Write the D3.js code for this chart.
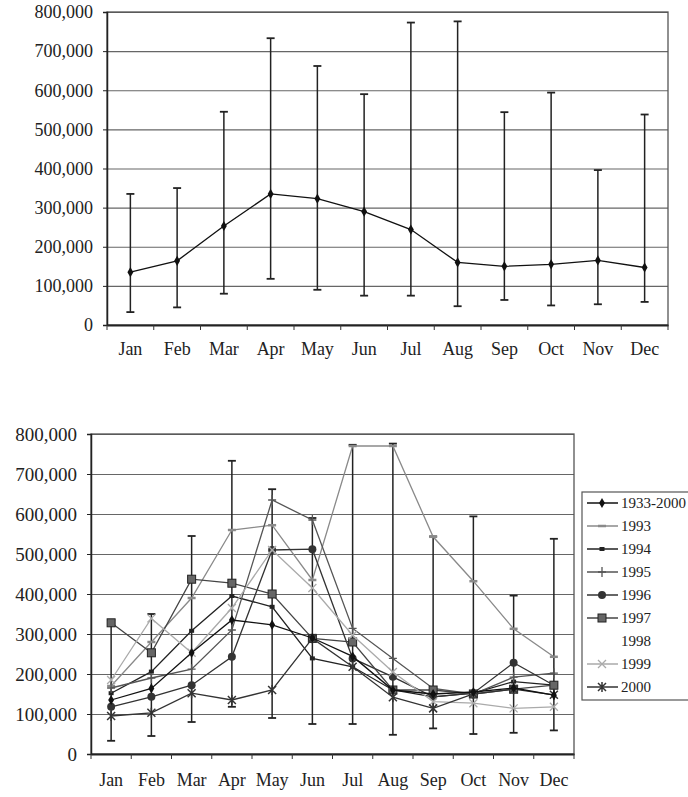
<!DOCTYPE html>
<html>
<head>
<meta charset="utf-8">
<script src="https://cdn.jsdelivr.net/npm/d3@7"></script>
<style>
  body { margin: 0; background: #fff; }
  svg { display: block; font-family: "Liberation Serif", "Times New Roman", serif; }
</style>
</head>
<body>
<svg width="688" height="797"></svg>
<script>
// months and yearly flow values
var months = ["Jan", "Feb", "Mar", "Apr", "May", "Jun", "Jul", "Aug", "Sep", "Oct", "Nov", "Dec"];
var yTicks = [0, 100000, 200000, 300000, 400000, 500000, 600000, 700000, 800000];

var meanFlow = [135000, 164000, 253000, 335000, 323000, 290000, 244000, 160000, 150000, 155000, 165000, 147000];
var maxFlow = [335000, 350000, 545000, 733000, 662000, 590000, 773000, 776000, 544000, 594000, 396000, 538000];
var minFlow = [33000, 45000, 80000, 118000, 90000, 75000, 75000, 48000, 64000, 50000, 53000, 59000];

var flow1993 = [170000, 280000, 390000, 560000, 572000, 435000, 770000, 770000, 543000, 432000, 313000, 243000];
var flow1994 = [152000, 206000, 308000, 395000, 368000, 239000, 218000, 160000, 143000, 152000, 181000, 172000];
var flow1995 = [165000, 190000, 212000, 310000, 635000, 585000, 314000, 239000, 164000, 150000, 192000, 202000];
var flow1996 = [118000, 143000, 172000, 243000, 510000, 512000, 239000, 193000, 143000, 152000, 228000, 172000];
var flow1997 = [328000, 253000, 437000, 427000, 400000, 289000, 280000, 160000, 160000, 150000, 162000, 172000];
var flow1999 = [185000, 339000, 253000, 365000, 510000, 415000, 297000, 205000, 131000, 127000, 114000, 118000];
var flow2000 = [95000, 103000, 152000, 135000, 160000, 289000, 218000, 142000, 114000, 150000, 162000, 148000];

var legendNames = ["1933-2000", "1993", "1994", "1995", "1996", "1997", "1998", "1999", "2000"];

var svg = d3.select("svg");
var fmt = d3.format(",");

// series styles, values come from the arrays above (1998 has no visible line)
var series = [
  {name: "1933-2000", values: meanFlow, color: "#111", marker: "diamond"},
  {name: "1993", values: flow1993, color: "#8a8a8a", marker: "dash"},
  {name: "1994", values: flow1994, color: "#222", marker: "smallsquare"},
  {name: "1995", values: flow1995, color: "#555", marker: "plus"},
  {name: "1996", values: flow1996, color: "#333", marker: "circle"},
  {name: "1997", values: flow1997, color: "#444", marker: "square"},
  {name: "1998", values: null, color: "none", marker: "none"},
  {name: "1999", values: flow1999, color: "#aaa", marker: "times"},
  {name: "2000", values: flow2000, color: "#333", marker: "star"}
];

function drawMarker(g, type, x, y, color) {
  if (type == "diamond") {
    g.append("path").attr("d", d3.symbol().type(d3.symbolDiamond).size(30)())
      .attr("transform", "translate(" + x + "," + y + ")").attr("fill", color);
  } else if (type == "circle") {
    g.append("circle").attr("cx", x).attr("cy", y).attr("r", 4).attr("fill", color);
  } else if (type == "square") {
    g.append("rect").attr("x", x - 4).attr("y", y - 4).attr("width", 8).attr("height", 8)
      .attr("fill", "#666").attr("stroke", "#222");
  } else if (type == "smallsquare") {
    g.append("rect").attr("x", x - 2.5).attr("y", y - 2).attr("width", 5).attr("height", 4).attr("fill", color);
  } else if (type == "dash") {
    g.append("line").attr("x1", x - 4).attr("x2", x + 4).attr("y1", y).attr("y2", y)
      .attr("stroke", color).attr("stroke-width", 2.5);
  } else if (type == "plus") {
    g.append("path").attr("d", "M" + (x - 4) + "," + y + "H" + (x + 4) + "M" + x + "," + (y - 5) + "V" + (y + 5))
      .attr("stroke", color).attr("stroke-width", 1.3);
  } else if (type == "times") {
    g.append("path").attr("d", "M" + (x - 4) + "," + (y - 4) + "L" + (x + 4) + "," + (y + 4) + "M" + (x - 4) + "," + (y + 4) + "L" + (x + 4) + "," + (y - 4))
      .attr("stroke", color).attr("stroke-width", 1.3);
  } else if (type == "star") {
    g.append("path").attr("d", "M" + (x - 4) + "," + (y - 4) + "L" + (x + 4) + "," + (y + 4) + "M" + (x - 4) + "," + (y + 4) + "L" + (x + 4) + "," + (y - 4) + "M" + x + "," + (y - 5) + "V" + (y + 5))
      .attr("stroke", color).attr("stroke-width", 1.5);
  }
}

// grid, frame, axes and error bars shared by both charts
function drawFrame(box) {
  var xScale = d3.scaleBand().domain(months).range([box.left, box.right]);
  var yScale = d3.scaleLinear().domain([0, 800000]).range([box.bottom, box.top]);
  var g = svg.append("g");

  g.append("g")
    .attr("transform", "translate(" + box.left + ",0)")
    .call(d3.axisLeft(yScale).tickValues(yTicks).tickSize(-(box.right - box.left)).tickFormat(""))
    .call(function(a) { a.select(".domain").remove(); })
    .selectAll("line").attr("stroke", "#666").attr("stroke-width", 1.2);

  g.append("rect")
    .attr("x", box.left).attr("y", box.top)
    .attr("width", box.right - box.left).attr("height", box.bottom - box.top)
    .attr("fill", "none").attr("stroke", "#555").attr("stroke-width", 1.3);

  var yAxis = g.append("g")
    .attr("transform", "translate(" + box.left + ",0)")
    .call(d3.axisLeft(yScale).tickValues(yTicks).tickSize(4).tickPadding(box.labelPad).tickFormat(fmt));
  yAxis.select(".domain").attr("stroke", "#222").attr("stroke-width", 1.5);
  yAxis.selectAll("line").attr("stroke", "#222");
  yAxis.selectAll("text").attr("font-size", box.tickFont).attr("fill", "#222").attr("font-family", "Liberation Serif");

  var xAxis = g.append("g")
    .attr("transform", "translate(0," + box.bottom + ")")
    .call(d3.axisBottom(xScale).tickSize(0).tickPadding(box.monthPad));
  xAxis.select(".domain").attr("stroke", "#222").attr("stroke-width", 1.8);
  xAxis.selectAll("text").attr("font-size", box.monthFont).attr("fill", "#222").attr("font-family", "Liberation Serif");

  // small ticks at the category boundaries
  g.selectAll(".bnd").data(months.concat(["end"])).enter()
    .append("line")
    .attr("x1", function(d) { return d == "end" ? box.right : xScale(d); })
    .attr("x2", function(d) { return d == "end" ? box.right : xScale(d); })
    .attr("y1", box.bottom).attr("y2", box.bottom + 5)
    .attr("stroke", "#333");

  // range bars with caps
  var bars = g.selectAll(".bar").data(months).enter().append("g");
  bars.append("line")
    .attr("x1", function(d) { return xScale(d) + xScale.bandwidth() / 2; })
    .attr("x2", function(d) { return xScale(d) + xScale.bandwidth() / 2; })
    .attr("y1", function(d, i) { return yScale(maxFlow[i]); })
    .attr("y2", function(d, i) { return yScale(minFlow[i]); })
    .attr("stroke", "#222").attr("stroke-width", 1.5);
  [maxFlow, minFlow].forEach(function(arr) {
    bars.append("line")
      .attr("x1", function(d) { return xScale(d) + xScale.bandwidth() / 2 - 4; })
      .attr("x2", function(d) { return xScale(d) + xScale.bandwidth() / 2 + 4; })
      .attr("y1", function(d, i) { return yScale(arr[i]); })
      .attr("y2", function(d, i) { return yScale(arr[i]); })
      .attr("stroke", "#222").attr("stroke-width", 1.8);
  });

  return {x: xScale, y: yScale, g: g};
}

function drawSeries(ch, s) {
  if (!s.values) return;
  var line = d3.line()
    .x(function(d, i) { return ch.x(months[i]) + ch.x.bandwidth() / 2; })
    .y(function(d) { return ch.y(d); });
  ch.g.append("path").datum(s.values)
    .attr("d", line).attr("fill", "none")
    .attr("stroke", s.color).attr("stroke-width", 1.3);
  s.values.forEach(function(v, i) {
    drawMarker(ch.g, s.marker, ch.x(months[i]) + ch.x.bandwidth() / 2, ch.y(v), s.color);
  });
}

// top chart: long-term mean with min/max range
var topChart = drawFrame({left: 107, right: 668, top: 12, bottom: 325, tickFont: "18px", labelPad: 10, monthFont: "18px", monthPad: 17});
drawSeries(topChart, series[0]);

// bottom chart: mean plus individual years
var botChart = drawFrame({left: 91, right: 574, top: 434, bottom: 754, tickFont: "19px", labelPad: 10, monthFont: "18px", monthPad: 19});
series.slice(1).forEach(function(s) { drawSeries(botChart, s); });
drawSeries(botChart, series[0]);

// legend
var legend = svg.append("g");
legend.append("rect")
  .attr("x", 582).attr("y", 492).attr("width", 130).attr("height", 208)
  .attr("fill", "#fff").attr("stroke", "#555").attr("stroke-width", 1.2);
var rows = legend.selectAll(".row").data(series).enter().append("g")
  .attr("transform", function(d, i) { return "translate(0," + (503 + i * 23) + ")"; });
rows.each(function(s) {
  var r = d3.select(this);
  if (s.values) {
    r.append("line").attr("x1", 587).attr("x2", 618).attr("y1", 0).attr("y2", 0)
      .attr("stroke", s.color).attr("stroke-width", 1.5);
    drawMarker(r, s.marker, 602, 0, s.color);
  }
  r.append("text").attr("x", 621).attr("y", 0).attr("dy", "0.35em")
    .attr("font-size", "15px").attr("fill", "#222").text(s.name);
});
</script>
</body>
</html>
